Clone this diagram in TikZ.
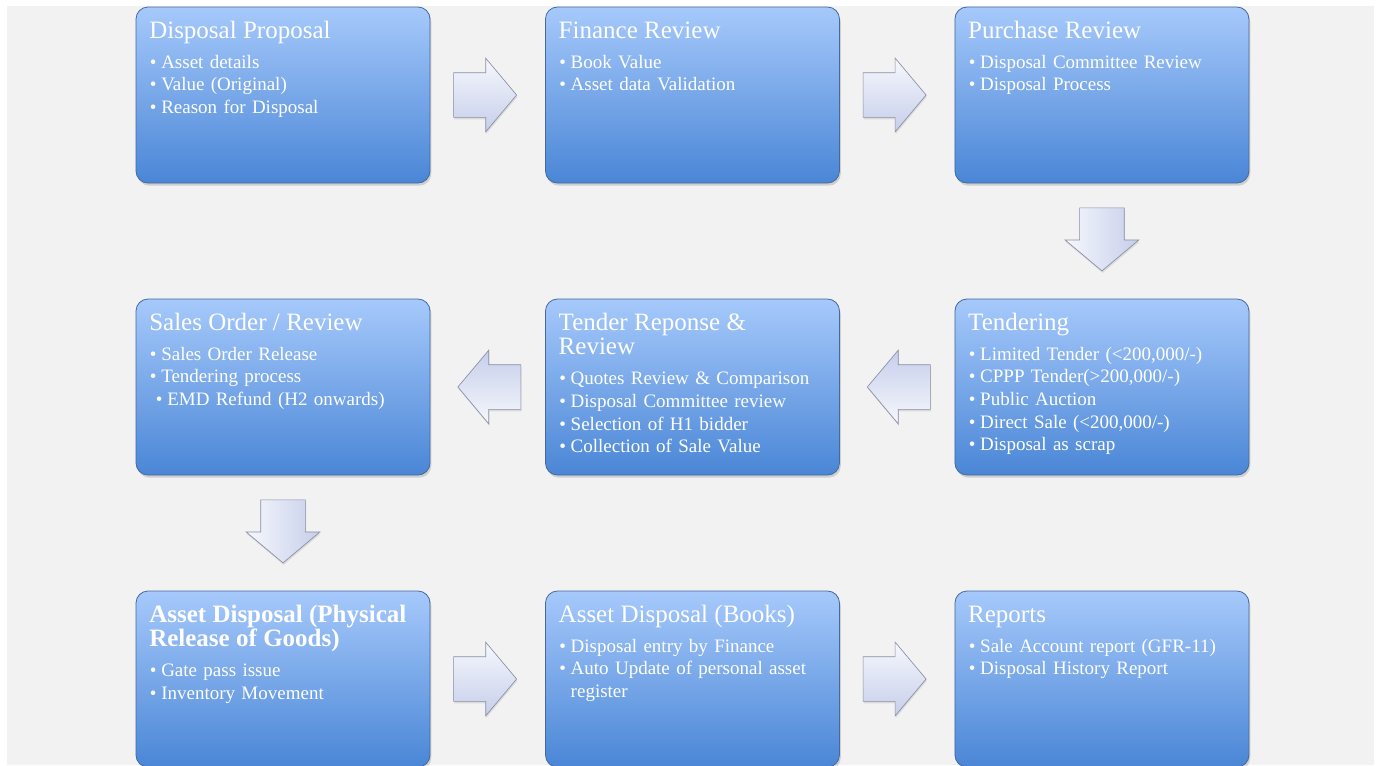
\documentclass[tikz,border=0pt]{standalone}
\usepackage{fontspec}
\setmainfont{Liberation Serif}
\usetikzlibrary{positioning, calc, shapes.arrows, shadows}
\definecolor{pagegrey}{HTML}{F2F2F2}
\definecolor{boxtop}{HTML}{A6C9FB}
\definecolor{boxbot}{HTML}{4A86D6}
\definecolor{boxedge}{HTML}{45689E}
\definecolor{arrowhi}{HTML}{F6F8FD}
\definecolor{arrowlo}{HTML}{C6CEEA}
\definecolor{arrowedge}{HTML}{8A90A4}

\newcommand{\stagetitle}[1]{{\fontsize{18.75}{18.5}\selectfont\rule{0pt}{19pt}#1\par}\vspace{5.5pt}}
\newcommand{\bul}[1]{\par\hangindent=9pt\hangafter=1\noindent\makebox[9pt][l]{\hspace{0.5pt}\textbullet}#1\par}
\newcommand{\subbul}[1]{\par\hangindent=13.5pt\hangafter=1\noindent\hspace*{4.5pt}\makebox[9pt][l]{\hspace{0.5pt}\textbullet}#1\par}

\tikzset{
    stagebox/.style={rectangle, rounded corners=9pt, minimum width=220.5pt, minimum height=132pt,
        inner sep=0pt, outer sep=0pt, top color=boxtop, bottom color=boxbot, draw=boxedge, line width=0.6pt,
        drop shadow={shadow xshift=1pt, shadow yshift=-2pt, opacity=0.3}},
    stagetext/.style={anchor=north west, inner sep=0pt, text width=201pt, align=left, text=white,
        font=\fontsize{14.25}{17}\selectfont},
    blockarrow/.style={single arrow, minimum height=47.25pt, inner xsep=0pt, inner ysep=16.5pt,
        single arrow head extend=10.9pt, single arrow tip angle=100, top color=arrowhi, bottom color=arrowlo,
        draw=arrowedge, line width=0.5pt, drop shadow={shadow xshift=0.5pt, shadow yshift=-1.5pt, opacity=0.2}}
}

\begin{document}
\begin{tikzpicture}[x=0.75pt, y=-0.75pt]

\useasboundingbox (0,0) rectangle (1380,765);
\fill[pagegrey] (7,6) rectangle (1374,765);

\node[stagebox] (proposal) at (283,95) {};
\node[stagebox, right=86.6pt of proposal] (finance) {};
\node[stagebox, right=86.6pt of finance] (purchase) {};

\node[stagebox, below=87pt of purchase] (tendering) {};
\node[stagebox, left=86.6pt of tendering] (response) {};
\node[stagebox, left=86.6pt of response] (salesorder) {};

\node[stagebox, below=87pt of salesorder] (physical) {};
\node[stagebox, right=86.6pt of physical] (books) {};
\node[stagebox, right=86.6pt of books] (reports) {};

    % -------

\node[stagetext] (proposalL) at ([xshift=9.75pt, yshift=-4.25pt]proposal.north west) {
    \stagetitle{Disposal Proposal}
    \bul{Asset details}
    \bul{Value (Original)}
    \bul{Reason for Disposal}
};
\node[stagetext] (financeL) at ([xshift=9.75pt, yshift=-4.25pt]finance.north west) {
    \stagetitle{Finance Review}
    \bul{Book Value}
    \bul{Asset data Validation}
};
\node[stagetext] (purchaseL) at ([xshift=9.75pt, yshift=-4.25pt]purchase.north west) {
    \stagetitle{Purchase Review}
    \bul{Disposal Committee Review}
    \bul{Disposal Process}
};
\node[stagetext] (tenderingL) at ([xshift=9.75pt, yshift=-4.25pt]tendering.north west) {
    \stagetitle{Tendering}
    \bul{Limited Tender (<200,000/-)}
    \bul{CPPP Tender(>200,000/-)}
    \bul{Public Auction}
    \bul{Direct Sale (<200,000/-)}
    \bul{Disposal as scrap}
};
\node[stagetext] (responseL) at ([xshift=9.75pt, yshift=-4.25pt]response.north west) {
    \stagetitle{Tender Reponse \&\\Review}
    \bul{Quotes Review \& Comparison}
    \bul{Disposal Committee review}
    \bul{Selection of H1 bidder}
    \bul{Collection of Sale Value}
};
\node[stagetext] (salesorderL) at ([xshift=9.75pt, yshift=-4.25pt]salesorder.north west) {
    \stagetitle{Sales Order / Review}
    \bul{Sales Order Release}
    \bul{Tendering process}
    \subbul{EMD Refund (H2 onwards)}
};
\node[stagetext] (physicalL) at ([xshift=9.75pt, yshift=-4.25pt]physical.north west) {
    \stagetitle{\bfseries Asset Disposal (Physical\\Release of Goods)}
    \bul{Gate pass issue}
    \bul{Inventory Movement}
};
\node[stagetext] (booksL) at ([xshift=9.75pt, yshift=-4.25pt]books.north west) {
    \stagetitle{Asset Disposal (Books)}
    \bul{Disposal entry by Finance}
    \bul{Auto Update of personal asset register}
};
\node[stagetext] (reportsL) at ([xshift=9.75pt, yshift=-4.25pt]reports.north west) {
    \stagetitle{Reports}
    \bul{Sale Account report (GFR-11)}
    \bul{Disposal History Report}
};

    % -------

\node[blockarrow] (proposal2finance) at ($(proposal.east)!0.5!(finance.west)+(-12,0)$) {};
\node[blockarrow] (finance2purchase) at ($(finance.east)!0.5!(purchase.west)+(-12,0)$) {};
\node[blockarrow, rotate=-90, shading angle=90] (purchase2tendering) at ($(purchase.south)!0.5!(tendering.north)+(0,-11)$) {};
\node[blockarrow, rotate=180, shading angle=180] (tendering2response) at ($(tendering.west)!0.5!(response.east)+(11,0)$) {};
\node[blockarrow, rotate=180, shading angle=180] (response2salesorder) at ($(response.west)!0.5!(salesorder.east)+(11,0)$) {};
\node[blockarrow, rotate=-90, shading angle=90] (salesorder2physical) at ($(salesorder.south)!0.5!(physical.north)+(0,-11)$) {};
\node[blockarrow] (physical2books) at ($(physical.east)!0.5!(books.west)+(-12,0)$) {};
\node[blockarrow] (books2reports) at ($(books.east)!0.5!(reports.west)+(-12,0)$) {};

\end{tikzpicture}
\end{document}
